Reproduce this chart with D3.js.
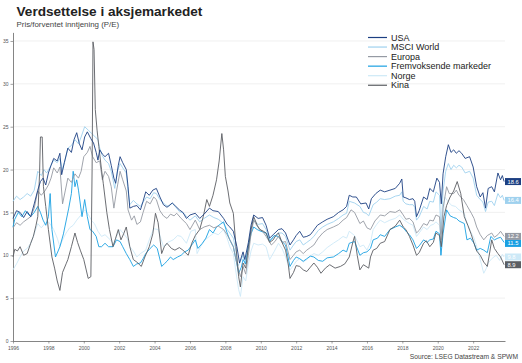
<!DOCTYPE html>
<html>
<head>
<meta charset="utf-8">
<script src="https://cdn.jsdelivr.net/npm/d3@7"></script>
<style>
  body { margin: 0; background: #fff; }
  svg { font-family: "Liberation Sans", Arial, sans-serif; }
  .grid line { stroke: #ececec; stroke-width: 0.8; }
  .axis path, .axis line { stroke: #666; }
  .axis text { fill: #555; font-size: 5px; }
</style>
</head>
<body>
<script>
// Data: [decimal year, forward P/E]
var usa = [[1996.0,14.3],[1996.2,15.2],[1996.4,15.0],[1996.6,14.4],[1996.8,15.1],[1997.0,14.5],[1997.2,16.0],[1997.4,17.6],[1997.55,18.6],[1997.7,19.0],[1997.85,18.2],[1998.0,19.6],[1998.15,20.5],[1998.3,21.3],[1998.5,21.0],[1998.65,21.9],[1998.75,19.4],[1998.9,20.8],[1999.1,22.5],[1999.3,22.0],[1999.45,23.5],[1999.6,24.3],[1999.75,23.0],[1999.9,22.3],[2000.05,23.8],[2000.2,24.4],[2000.4,23.6],[2000.55,23.1],[2000.7,22.0],[2000.8,21.1],[2000.9,22.3],[2001.05,21.8],[2001.2,21.5],[2001.4,21.9],[2001.55,20.5],[2001.7,19.0],[2001.8,18.4],[2001.95,20.5],[2002.05,21.5],[2002.2,20.8],[2002.4,20.0],[2002.5,18.0],[2002.6,15.5],[2002.8,15.7],[2003.0,15.8],[2003.2,15.3],[2003.35,16.3],[2003.5,17.4],[2003.7,17.0],[2003.9,17.6],[2004.1,17.8],[2004.3,16.8],[2004.5,15.9],[2004.7,15.6],[2005.0,16.1],[2005.2,15.7],[2005.4,15.3],[2005.6,15.0],[2005.8,14.3],[2006.0,14.7],[2006.3,14.9],[2006.55,14.3],[2006.8,14.8],[2007.1,15.5],[2007.3,15.2],[2007.6,15.1],[2007.9,14.3],[2008.1,13.6],[2008.25,13.3],[2008.45,12.8],[2008.65,11.0],[2008.8,9.1],[2009.0,10.4],[2009.1,9.5],[2009.3,11.5],[2009.45,13.5],[2009.6,14.7],[2009.85,14.3],[2010.1,14.4],[2010.3,13.5],[2010.5,12.0],[2010.7,12.4],[2011.0,13.0],[2011.2,13.1],[2011.4,12.6],[2011.65,11.2],[2011.85,11.8],[2012.0,12.3],[2012.2,12.8],[2012.4,12.1],[2012.6,12.2],[2012.8,12.4],[2012.95,12.8],[2013.2,13.5],[2013.5,13.9],[2013.75,14.2],[2014.1,14.5],[2014.4,15.0],[2014.65,15.3],[2014.85,15.7],[2015.0,17.0],[2015.2,16.8],[2015.4,16.8],[2015.65,16.0],[2015.95,16.1],[2016.1,15.4],[2016.25,16.6],[2016.5,17.2],[2016.75,17.6],[2017.0,17.4],[2017.3,17.6],[2017.6,17.8],[2017.85,18.4],[2017.97,18.9],[2018.05,16.8],[2018.2,16.7],[2018.4,16.5],[2018.6,16.6],[2018.7,16.3],[2018.8,14.5],[2018.95,15.2],[2019.2,16.8],[2019.4,16.5],[2019.55,17.8],[2019.75,17.4],[2019.95,19.0],[2020.1,18.5],[2020.2,16.0],[2020.3,19.5],[2020.45,21.5],[2020.6,22.9],[2020.75,22.0],[2020.9,22.3],[2021.05,21.9],[2021.2,22.2],[2021.35,21.9],[2021.55,21.3],[2021.8,21.5],[2022.0,20.3],[2022.2,18.0],[2022.4,16.8],[2022.55,17.3],[2022.7,15.5],[2022.85,17.8],[2023.05,18.0],[2023.2,17.4],[2023.4,19.6],[2023.55,18.8],[2023.65,19.3],[2023.75,18.6]];

var msciWorld = [[1996.0,16.3],[1996.2,16.9],[1996.4,16.5],[1996.6,16.8],[1996.8,17.2],[1997.0,16.9],[1997.2,17.6],[1997.4,19.8],[1997.6,19.3],[1997.75,20.0],[1997.9,19.6],[1998.1,20.3],[1998.3,21.1],[1998.5,20.8],[1998.65,21.3],[1998.8,20.0],[1998.95,21.2],[1999.1,22.5],[1999.3,22.8],[1999.5,23.5],[1999.7,23.0],[1999.85,23.8],[2000.05,25.0],[2000.25,24.6],[2000.45,24.2],[2000.65,23.8],[2000.8,23.5],[2000.9,22.5],[2001.05,21.6],[2001.2,21.1],[2001.4,20.7],[2001.55,19.8],[2001.75,17.8],[2001.9,19.8],[2002.05,20.7],[2002.2,20.2],[2002.4,19.6],[2002.5,17.5],[2002.6,15.9],[2002.8,16.4],[2003.0,16.0],[2003.2,15.7],[2003.35,16.2],[2003.55,16.8],[2003.75,16.6],[2003.95,17.3],[2004.1,17.2],[2004.3,16.5],[2004.6,15.9],[2004.8,15.7],[2005.0,16.1],[2005.2,15.6],[2005.4,15.1],[2005.65,14.9],[2005.9,14.3],[2006.0,14.1],[2006.3,14.6],[2006.55,13.9],[2006.8,14.3],[2007.1,14.7],[2007.35,14.4],[2007.6,14.2],[2007.9,13.7],[2008.1,13.0],[2008.25,12.6],[2008.45,12.0],[2008.6,10.5],[2008.7,8.7],[2008.85,9.3],[2009.0,10.0],[2009.1,9.0],[2009.3,11.0],[2009.45,13.0],[2009.6,14.1],[2009.85,13.6],[2010.1,13.7],[2010.3,13.0],[2010.5,11.8],[2010.7,12.0],[2011.0,12.6],[2011.2,12.6],[2011.4,12.2],[2011.65,10.6],[2011.85,11.2],[2012.0,11.6],[2012.2,11.8],[2012.4,11.2],[2012.6,11.5],[2012.8,11.8],[2013.0,12.2],[2013.25,12.9],[2013.5,13.3],[2013.75,13.6],[2014.1,13.9],[2014.4,14.3],[2014.65,14.7],[2014.85,14.9],[2015.0,16.3],[2015.3,16.1],[2015.6,15.7],[2015.8,15.0],[2015.95,14.9],[2016.1,14.6],[2016.35,15.9],[2016.55,16.2],[2016.75,16.6],[2017.0,16.5],[2017.3,16.6],[2017.6,16.9],[2017.85,17.0],[2017.97,17.4],[2018.05,16.3],[2018.2,16.0],[2018.4,15.9],[2018.6,15.9],[2018.7,15.6],[2018.8,14.1],[2018.95,14.5],[2019.2,15.7],[2019.4,15.4],[2019.55,16.3],[2019.75,16.2],[2019.9,17.4],[2020.1,17.0],[2020.18,12.5],[2020.3,17.5],[2020.45,19.8],[2020.6,20.7],[2020.75,20.0],[2020.9,20.5],[2021.05,20.2],[2021.2,20.5],[2021.35,20.3],[2021.55,19.6],[2021.8,19.8],[2022.0,19.0],[2022.2,17.0],[2022.4,16.5],[2022.55,16.2],[2022.7,15.1],[2022.85,16.2],[2023.05,16.3],[2023.2,15.8],[2023.4,17.2],[2023.55,16.7],[2023.65,17.0],[2023.75,16.4]];

var europa = [[1996.0,13.2],[1996.2,13.8],[1996.4,13.5],[1996.6,13.9],[1996.8,14.2],[1997.0,14.5],[1997.2,15.5],[1997.4,17.5],[1997.6,17.0],[1997.8,17.5],[1998.0,18.2],[1998.15,19.0],[1998.3,20.2],[1998.5,19.6],[1998.65,20.3],[1998.8,16.0],[1998.95,17.5],[1999.1,19.0],[1999.3,18.5],[1999.5,19.5],[1999.7,19.0],[1999.85,19.8],[2000.0,21.5],[2000.2,22.0],[2000.35,22.7],[2000.5,21.5],[2000.7,20.8],[2000.9,21.0],[2001.05,18.8],[2001.2,19.8],[2001.4,19.2],[2001.55,18.0],[2001.7,15.5],[2001.85,17.5],[2002.05,19.8],[2002.2,18.8],[2002.4,17.5],[2002.5,15.3],[2002.7,14.1],[2002.85,14.6],[2003.0,13.6],[2003.2,13.9],[2003.35,15.0],[2003.55,16.3],[2003.75,16.0],[2003.95,16.8],[2004.1,16.5],[2004.3,15.2],[2004.5,14.6],[2004.7,14.3],[2004.9,14.8],[2005.1,14.6],[2005.25,14.9],[2005.5,14.3],[2005.8,13.7],[2006.0,13.0],[2006.3,14.1],[2006.55,13.0],[2006.8,13.3],[2007.1,13.5],[2007.35,13.2],[2007.6,13.4],[2007.9,13.0],[2008.1,12.4],[2008.25,11.8],[2008.45,11.0],[2008.65,9.0],[2008.85,7.5],[2009.0,8.7],[2009.15,7.8],[2009.3,10.0],[2009.45,12.5],[2009.6,14.1],[2009.8,13.4],[2009.95,13.0],[2010.1,12.8],[2010.3,12.2],[2010.6,11.2],[2010.8,11.6],[2011.0,12.2],[2011.2,11.5],[2011.4,11.6],[2011.65,9.5],[2011.85,10.0],[2012.0,10.4],[2012.2,10.6],[2012.4,10.2],[2012.6,10.6],[2012.8,10.9],[2013.0,11.2],[2013.25,12.0],[2013.5,12.6],[2013.75,13.0],[2014.1,13.3],[2014.4,13.6],[2014.65,14.1],[2014.85,14.4],[2015.1,15.3],[2015.3,15.0],[2015.6,13.7],[2015.8,14.0],[2016.0,13.2],[2016.2,13.0],[2016.45,14.0],[2016.75,14.7],[2017.0,14.6],[2017.3,15.1],[2017.6,15.0],[2017.85,15.3],[2018.05,14.7],[2018.2,14.2],[2018.4,14.3],[2018.6,13.9],[2018.8,12.6],[2018.95,12.9],[2019.2,13.7],[2019.4,13.5],[2019.55,14.1],[2019.75,14.0],[2019.9,14.7],[2020.1,14.5],[2020.18,11.8],[2020.3,15.5],[2020.5,18.0],[2020.65,17.2],[2020.9,17.2],[2021.05,17.6],[2021.2,17.0],[2021.45,16.5],[2021.65,15.8],[2021.9,14.9],[2022.05,14.3],[2022.2,13.3],[2022.4,12.4],[2022.6,11.8],[2022.8,12.3],[2023.05,12.6],[2023.2,12.1],[2023.4,12.4],[2023.55,12.8],[2023.75,12.2]];

var fremvoksende = [[1996.0,13.3],[1996.1,14.2],[1996.3,15.0],[1996.5,14.5],[1996.7,15.2],[1996.9,14.7],[1997.0,14.5],[1997.2,15.0],[1997.4,15.7],[1997.55,15.0],[1997.7,14.1],[1997.85,13.5],[1998.0,14.5],[1998.1,17.2],[1998.2,13.0],[1998.4,9.8],[1998.55,10.5],[1998.65,11.0],[1998.85,12.5],[1999.0,14.0],[1999.15,15.5],[1999.3,17.2],[1999.4,19.8],[1999.5,18.0],[1999.6,18.8],[1999.7,17.6],[1999.9,14.5],[2000.05,16.5],[2000.2,14.5],[2000.35,13.0],[2000.5,12.8],[2000.7,12.2],[2000.85,11.0],[2001.0,11.0],[2001.2,11.4],[2001.4,11.0],[2001.65,11.0],[2001.85,11.8],[2002.05,11.6],[2002.2,11.0],[2002.4,10.2],[2002.6,9.5],[2002.8,8.7],[2003.0,9.0],[2003.2,9.1],[2003.35,9.6],[2003.5,10.2],[2003.75,10.8],[2003.95,11.2],[2004.15,10.8],[2004.4,8.7],[2004.55,9.0],[2004.7,9.3],[2004.9,9.8],[2005.05,9.5],[2005.3,9.8],[2005.5,10.0],[2005.7,10.4],[2005.9,10.6],[2006.1,11.2],[2006.3,11.8],[2006.45,10.8],[2006.7,11.4],[2006.9,12.0],[2007.1,13.0],[2007.3,12.6],[2007.5,13.3],[2007.7,13.6],[2007.9,13.9],[2008.1,12.6],[2008.25,11.8],[2008.45,11.0],[2008.6,9.5],[2008.75,7.9],[2008.9,8.6],[2009.0,9.5],[2009.15,9.0],[2009.3,11.0],[2009.45,12.5],[2009.6,13.3],[2009.8,13.0],[2010.0,12.8],[2010.3,12.6],[2010.5,11.6],[2010.75,12.3],[2011.0,12.2],[2011.2,11.6],[2011.4,11.2],[2011.65,8.7],[2011.85,9.4],[2012.0,9.8],[2012.2,9.6],[2012.4,9.3],[2012.6,9.6],[2012.8,9.9],[2013.0,9.8],[2013.25,9.4],[2013.5,9.3],[2013.75,9.7],[2014.1,9.8],[2014.4,10.2],[2014.65,10.6],[2014.85,10.4],[2015.0,11.4],[2015.3,11.6],[2015.6,10.0],[2015.8,10.3],[2016.0,10.4],[2016.2,10.8],[2016.35,11.8],[2016.6,12.0],[2016.75,12.4],[2017.0,12.2],[2017.3,13.0],[2017.6,13.3],[2017.85,13.5],[2018.05,13.2],[2018.25,12.7],[2018.4,12.4],[2018.6,11.8],[2018.8,10.8],[2018.95,11.1],[2019.2,11.8],[2019.4,11.5],[2019.55,11.8],[2019.75,11.9],[2019.9,12.8],[2020.1,12.5],[2020.18,10.0],[2020.3,12.5],[2020.5,15.3],[2020.7,14.6],[2020.9,14.4],[2021.05,14.3],[2021.2,14.0],[2021.5,13.7],[2021.65,11.8],[2021.85,12.0],[2022.05,11.4],[2022.2,10.6],[2022.4,10.8],[2022.6,10.6],[2022.8,10.3],[2023.0,12.2],[2023.2,11.8],[2023.4,12.0],[2023.55,12.1],[2023.75,11.5]];

var norge = [[1996.0,8.3],[1996.2,9.0],[1996.4,9.8],[1996.6,10.5],[1996.8,10.8],[1997.0,11.4],[1997.2,12.5],[1997.4,13.7],[1997.6,13.2],[1997.8,13.7],[1998.0,13.9],[1998.15,13.5],[1998.3,13.0],[1998.5,12.0],[1998.65,11.0],[1998.8,11.8],[1999.0,12.6],[1999.2,13.2],[1999.4,13.5],[1999.6,14.1],[1999.8,14.6],[2000.05,15.3],[2000.25,14.8],[2000.45,14.0],[2000.6,13.7],[2000.8,12.8],[2001.0,12.2],[2001.2,12.4],[2001.5,11.8],[2001.7,11.3],[2001.85,12.2],[2002.05,13.0],[2002.25,12.5],[2002.45,12.0],[2002.6,11.0],[2002.8,10.5],[2003.0,9.8],[2003.2,10.2],[2003.5,10.6],[2003.7,11.8],[2003.95,13.1],[2004.2,13.0],[2004.35,12.0],[2004.5,11.0],[2004.75,11.5],[2005.05,11.8],[2005.3,12.3],[2005.5,12.2],[2005.8,11.4],[2006.05,12.8],[2006.3,13.0],[2006.4,10.2],[2006.6,11.0],[2006.85,11.8],[2007.1,12.2],[2007.35,12.6],[2007.6,12.4],[2007.9,13.0],[2008.1,12.0],[2008.25,11.0],[2008.45,10.2],[2008.6,8.0],[2008.75,6.0],[2008.85,5.2],[2009.0,7.5],[2009.15,7.0],[2009.3,9.0],[2009.45,10.5],[2009.6,11.4],[2009.85,11.2],[2010.1,11.3],[2010.3,11.0],[2010.5,9.5],[2010.75,10.4],[2011.0,11.4],[2011.2,10.8],[2011.4,9.8],[2011.65,8.3],[2011.85,8.8],[2012.0,9.3],[2012.2,9.6],[2012.4,9.2],[2012.6,9.5],[2012.8,9.9],[2013.0,10.2],[2013.25,10.0],[2013.5,10.4],[2013.75,10.9],[2014.1,11.4],[2014.4,11.8],[2014.65,12.2],[2014.85,12.0],[2015.0,12.8],[2015.3,12.3],[2015.6,11.0],[2015.8,11.2],[2016.0,10.6],[2016.2,11.5],[2016.35,13.0],[2016.55,13.6],[2016.75,14.1],[2017.0,13.8],[2017.3,14.1],[2017.6,14.3],[2017.85,14.7],[2018.05,14.2],[2018.25,13.9],[2018.4,13.7],[2018.6,13.5],[2018.8,12.2],[2018.95,12.6],[2019.2,13.3],[2019.4,13.0],[2019.6,13.5],[2019.75,13.6],[2019.9,13.9],[2020.1,13.5],[2020.18,10.0],[2020.3,14.5],[2020.4,16.8],[2020.6,16.2],[2020.8,15.8],[2021.0,15.7],[2021.2,15.3],[2021.5,14.9],[2021.65,13.7],[2021.85,12.8],[2022.05,12.0],[2022.2,11.0],[2022.4,9.5],[2022.6,7.9],[2022.75,8.5],[2022.85,9.1],[2023.05,9.6],[2023.3,10.0],[2023.5,9.4],[2023.65,10.1],[2023.75,9.8]];

var kina = [[1996.0,9.8],[1996.1,10.7],[1996.25,10.5],[1996.4,11.0],[1996.6,10.0],[1996.8,10.2],[1997.0,11.4],[1997.15,12.2],[1997.3,13.5],[1997.4,14.5],[1997.5,19.5],[1997.55,23.8],[1997.65,23.8],[1997.72,18.0],[1997.85,15.7],[1998.0,13.0],[1998.2,9.8],[1998.35,8.5],[1998.5,7.0],[1998.65,5.9],[1998.8,8.0],[1999.0,9.0],[1999.1,9.5],[1999.3,11.0],[1999.5,12.6],[1999.65,11.5],[1999.8,10.6],[2000.0,9.5],[2000.25,7.3],[2000.4,7.5],[2000.47,20.0],[2000.52,34.9],[2000.58,34.0],[2000.65,27.0],[2000.75,24.6],[2000.85,22.7],[2001.0,20.0],[2001.1,18.4],[2001.3,15.0],[2001.45,13.0],[2001.65,11.0],[2001.8,12.0],[2001.95,13.0],[2002.1,11.8],[2002.25,12.5],[2002.4,13.3],[2002.6,11.0],[2002.8,9.5],[2003.0,9.2],[2003.25,8.7],[2003.45,9.8],[2003.7,11.0],[2003.9,12.5],[2004.05,14.9],[2004.2,13.8],[2004.4,10.2],[2004.55,11.0],[2004.7,11.4],[2004.95,10.8],[2005.15,10.6],[2005.4,10.9],[2005.6,10.6],[2005.9,10.0],[2006.1,11.4],[2006.3,12.3],[2006.55,13.0],[2006.75,14.5],[2006.95,16.5],[2007.1,15.7],[2007.3,17.0],[2007.5,18.8],[2007.65,21.0],[2007.8,24.2],[2007.9,22.3],[2008.0,19.2],[2008.15,17.5],[2008.25,16.1],[2008.45,14.9],[2008.6,11.0],[2008.75,7.5],[2008.85,6.3],[2009.0,9.1],[2009.15,8.5],[2009.3,11.0],[2009.45,13.0],[2009.6,14.5],[2009.8,13.5],[2009.95,13.0],[2010.15,12.8],[2010.3,12.6],[2010.5,11.5],[2010.7,11.8],[2010.85,12.3],[2011.0,12.6],[2011.2,11.5],[2011.4,10.6],[2011.55,9.0],[2011.65,7.3],[2011.85,8.0],[2012.0,8.8],[2012.2,8.7],[2012.4,8.3],[2012.6,8.1],[2012.8,8.6],[2013.0,9.1],[2013.2,8.6],[2013.4,7.9],[2013.65,8.5],[2013.9,8.9],[2014.2,8.5],[2014.5,8.7],[2014.75,9.0],[2015.0,9.8],[2015.2,11.5],[2015.3,12.2],[2015.45,10.0],[2015.6,8.3],[2015.8,8.9],[2016.1,8.5],[2016.2,9.8],[2016.35,10.6],[2016.55,10.8],[2016.75,11.4],[2017.0,11.6],[2017.3,13.0],[2017.6,13.4],[2017.85,14.1],[2018.05,13.3],[2018.2,13.0],[2018.4,12.2],[2018.6,11.2],[2018.8,10.0],[2018.95,10.3],[2019.2,11.4],[2019.35,11.7],[2019.55,11.0],[2019.75,11.5],[2019.9,12.6],[2020.1,12.3],[2020.2,11.0],[2020.35,14.5],[2020.5,15.8],[2020.7,16.8],[2020.9,17.5],[2021.1,18.6],[2021.3,17.2],[2021.5,14.5],[2021.7,13.5],[2021.9,12.4],[2022.05,11.4],[2022.2,10.5],[2022.4,10.0],[2022.6,9.2],[2022.8,8.7],[2022.95,10.5],[2023.05,11.8],[2023.2,10.8],[2023.4,10.2],[2023.55,9.8],[2023.75,8.9]];

var seriesNames = ["USA", "MSCI World", "Europa", "Fremvoksende markeder", "Norge", "Kina"];
var seriesColors = ["#1c3f82", "#9fd1ee", "#959aa3", "#1aa0e2", "#cde9f7", "#5b5e63"];
var yTicks = [0, 5, 10, 15, 20, 25, 30, 35];
var xTicks = [1996, 1998, 2000, 2002, 2004, 2006, 2008, 2010, 2012, 2014, 2016, 2018, 2020, 2022];

var allSeries = [usa, msciWorld, europa, fremvoksende, norge, kina];
var drawOrder = [4, 1, 3, 2, 5, 0]; // Norge at the back, USA on top

var width = 522, height = 363;

var xScale = d3.scaleLinear()
  .domain([1996, 2023.8])
  .range([13, 505]);
var yScale = d3.scaleLinear()
  .domain([0, 36])
  .range([341, 32.4]);

var svg = d3.select("body").append("svg")
    .attr("width", width)
    .attr("height", height);

// Title and subtitle
svg.append("text")
    .attr("x", 16.5).attr("y", 15.5)
    .attr("font-size", 13.6).attr("font-weight", "bold")
    .attr("fill", "#222")
    .text("Verdsettelse i aksjemarkedet");
svg.append("text")
    .attr("x", 16.5).attr("y", 27)
    .attr("font-size", 7.9).attr("fill", "#444")
    .text("Pris/forventet inntjening (P/E)");

// Horizontal gridlines
svg.append("g")
    .attr("class", "grid")
  .selectAll("line")
    .data(yTicks.slice(1))
  .enter().append("line")
    .attr("x1", 13).attr("x2", 505)
    .attr("y1", function(d) { return yScale(d); })
    .attr("y2", function(d) { return yScale(d); });

// Axes
svg.append("g")
    .attr("class", "axis")
    .attr("transform", "translate(0," + yScale(0) + ")")
    .call(d3.axisBottom(xScale).tickValues(xTicks).tickFormat(d3.format("d")).tickSize(2.5).tickPadding(2.5).tickSizeOuter(0));
svg.append("g")
    .attr("class", "axis")
    .attr("transform", "translate(" + xScale(1996) + ",0)")
    .call(d3.axisLeft(yScale).tickValues(yTicks).tickSize(2.5).tickPadding(2).tickSizeOuter(0));

svg.selectAll(".axis path").attr("stroke-width", 0.8);
svg.selectAll(".axis line").attr("stroke-width", 0.6);

// Line generator
var line = d3.line()
  .x(function(d) { return xScale(d[0]); })
  .y(function(d) { return yScale(d[1]); })
  .curve(d3.curveLinear);

drawOrder.forEach(function(i) {
  svg.append("path")
      .datum(allSeries[i])
      .attr("fill", "none")
      .attr("stroke", seriesColors[i])
      .attr("stroke-width", 0.9)
      .attr("stroke-linejoin", "round")
      .attr("d", line);
});

// End labels, nudged apart so they don't overlap
var endLabels = allSeries.map(function(s, i) {
  var last = s[s.length - 1];
  return { i: i, v: last[1], y: yScale(last[1]) };
}).sort(function(a, b) { return a.y - b.y; });
for (var k = 1; k < endLabels.length; k++) {
  if (endLabels[k].y - endLabels[k - 1].y < 7) endLabels[k].y = endLabels[k - 1].y + 7;
}
var lab = svg.append("g").selectAll("g")
    .data(endLabels)
  .enter().append("g")
    .attr("transform", function(d) { return "translate(505," + d.y + ")"; });
lab.append("rect")
    .attr("x", 0).attr("y", -3.5)
    .attr("width", 16).attr("height", 7)
    .attr("fill", function(d) { return seriesColors[d.i]; });
lab.append("text")
    .attr("x", 2.5).attr("y", 2)
    .attr("font-size", 5.8).attr("fill", "#fff")
    .text(function(d) { return d.v.toFixed(1); });

// Legend
var legend = svg.append("g").selectAll("g")
    .data(seriesNames)
  .enter().append("g")
    .attr("transform", function(d, i) { return "translate(368," + (37.5 + i * 9.55) + ")"; });
legend.append("line")
    .attr("x1", 0).attr("x2", 19)
    .attr("stroke", function(d, i) { return seriesColors[i]; })
    .attr("stroke-width", 1.2);
legend.append("text")
    .attr("x", 23).attr("y", 3.2)
    .attr("font-size", 9).attr("fill", "#222")
    .text(function(d) { return d; });

// Source
svg.append("text")
    .attr("x", 518).attr("y", 359)
    .attr("text-anchor", "end")
    .attr("font-size", 6.7).attr("fill", "#444")
    .text("Source: LSEG Datastream & SPWM");
</script>
</body>
</html>
